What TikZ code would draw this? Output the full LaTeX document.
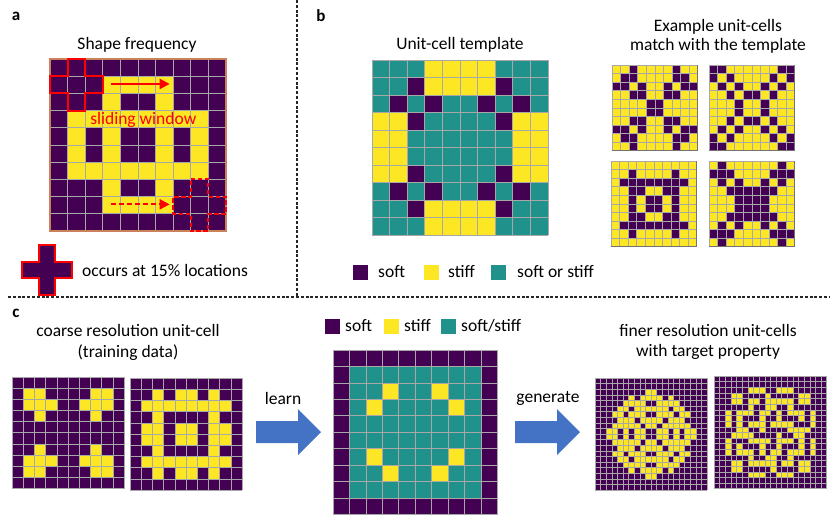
\documentclass[tikz,border=0pt]{standalone}
\usepackage{fontspec}
\setmainfont{Carlito}
\usetikzlibrary{arrows.meta}
\definecolor{colP}{HTML}{440154}
\definecolor{colY}{HTML}{FDE725}
\definecolor{colT}{HTML}{21918C}
\definecolor{gridgray}{HTML}{A8A8A8}
\definecolor{frameorange}{HTML}{C98259}
\definecolor{arrowblue}{HTML}{4472C4}
\tikzset{
  txt/.style={font=\fontsize{17.5}{20}\selectfont, inner sep=0pt},
  panel/.style={font=\fontsize{17}{20}\selectfont\bfseries, inner sep=0pt},
  divider/.style={line width=1.1pt, black!85, dash pattern=on 3pt off 1.8pt},
  gridline/.style={draw=gridgray},
  redline/.style={draw=red, line width=2pt},
  keybox/.style={minimum size=15pt, inner sep=0pt},
}
% cells of a grid, given row by row (P, Y or T)
\newcommand{\cellgrid}[1]{%
  \foreach \row [count=\ry from 0] in {#1} {
    \foreach \v [count=\cx from 0] in \row
      \fill[col\v] (\cx,\ry) rectangle ++(1,1);
  }}
% n x n grid lines
\newcommand{\gridlines}[2]{%
  \foreach \i in {0,...,#1}
    \draw[gridline, line width=#2] (\i,0) -- (\i,#1) (0,\i) -- (#1,\i);}
% yellow cells of the top-left quarter of a 20 x 20 grid
\newcommand{\quartercells}[1]{%
  \foreach \cx/\ry in {#1}
    \fill[colY] (\cx-10,\ry-10) rectangle ++(1,1);}

\begin{document}
\begin{tikzpicture}[x=1pt, y=-1pt]
\useasboundingbox (0,0) rectangle (830,515);

% dividers
\coordinate (divtop) at (297,0);
\coordinate (divmid) at (297,297);
\coordinate (divleft) at (8,297);
\coordinate (divright) at (830,297);
\draw[divider] (divtop) -- (divmid);
\draw[divider] (divleft) -- (divright);

% ---------- a ----------
\node[panel] (labela) at (16,16) {a};
\node[txt] (shapefreq) at (137,45) {Shape frequency};
\begin{scope}[shift={(50,59)}, x=17.6pt, y=-17.2pt]
  \cellgrid{{P,P,P,P,P,P,P,P,P,P},
            {P,P,P,Y,Y,Y,Y,P,P,P},
            {P,P,P,Y,P,P,Y,P,P,P},
            {P,Y,Y,Y,Y,Y,Y,Y,Y,P},
            {P,Y,P,Y,P,P,Y,P,Y,P},
            {P,Y,P,Y,P,P,Y,P,Y,P},
            {P,Y,Y,Y,Y,Y,Y,Y,Y,P},
            {P,P,P,Y,P,P,Y,P,P,P},
            {P,P,P,Y,Y,Y,Y,P,P,P},
            {P,P,P,P,P,P,P,P,P,P}}
  \gridlines{10}{0.8pt}
  \draw[frameorange, line width=1.2pt] (0,0) rectangle (10,10);
  \draw[redline] (1,0) -- (2,0) -- (2,1) -- (3,1) -- (3,2) -- (2,2) -- (2,3)
    -- (1,3) -- (1,2) -- (0,2) -- (0,1) -- (1,1) -- cycle;
  \draw[redline, dash pattern=on 4.5pt off 2.5pt] (8,7) -- (9,7) -- (9,8) -- (10,8)
    -- (10,9) -- (9,9) -- (9,10) -- (8,10) -- (8,9) -- (7,9) -- (7,8) -- (8,8) -- cycle;
  \coordinate (slide1) at (3.45,1.45);
  \coordinate (slide2) at (6.8,1.45);
  \coordinate (slide3) at (3.45,8.45);
  \coordinate (slide4) at (6.8,8.45);
  \draw[redline, -{Triangle[length=10pt,width=10pt]}] (slide1) -- (slide2);
  \draw[redline, dash pattern=on 5pt off 3pt, -{Triangle[length=10pt,width=10pt]}] (slide3) -- (slide4);
  \node[txt, text=red] (sliding) at (5.3,3.55) {sliding window};
\end{scope}
\begin{scope}[shift={(22,245)}, x=16.5pt, y=-16.5pt]
  \filldraw[fill=colP, redline] (1,0) -- (2,0) -- (2,1) -- (3,1) -- (3,2) -- (2,2) -- (2,3)
    -- (1,3) -- (1,2) -- (0,2) -- (0,1) -- (1,1) -- cycle;
\end{scope}
\node[txt, anchor=west] (occurs) at (82,270) {occurs at 15\% locations};

% ---------- b ----------
\node[panel] (labelb) at (321,16) {b};
\node[txt] (template) at (460,45) {Unit-cell template};
\begin{scope}[shift={(372,60)}, x=17.6pt, y=-17.5pt]
  \cellgrid{{T,T,T,Y,Y,Y,Y,T,T,T},
            {T,T,P,Y,Y,Y,Y,P,T,T},
            {T,P,T,P,T,T,P,T,P,T},
            {Y,Y,P,T,T,T,T,P,Y,Y},
            {Y,Y,T,T,T,T,T,T,Y,Y},
            {Y,Y,T,T,T,T,T,T,Y,Y},
            {Y,Y,P,T,T,T,T,P,Y,Y},
            {T,P,T,P,T,T,P,T,P,T},
            {T,T,P,Y,Y,Y,Y,P,T,T},
            {T,T,T,Y,Y,Y,Y,T,T,T}}
  \gridlines{10}{0.8pt}
\end{scope}
\node[keybox, fill=colP] (keysoft) at (360,272.5) {};
\node[txt, anchor=west] (soft) at (378,272) {soft};
\node[keybox, fill=colY] (keystiff) at (431.5,272.5) {};
\node[txt, anchor=west] (stiff) at (448,272) {stiff};
\node[keybox, fill=colT] (keyeither) at (498.5,272.5) {};
\node[txt, anchor=west] (either) at (517,272) {soft or stiff};

\node[txt] (example1) at (718,27) {Example unit-cells};
\node[txt] (example2) at (718,46) {match with the template};
\begin{scope}[shift={(612,65)}, x=8.55pt, y=-8.55pt]
  \cellgrid{{Y,Y,P,Y,Y,Y,Y,P,Y,Y},
            {Y,P,P,Y,Y,Y,Y,P,P,Y},
            {P,P,Y,P,Y,Y,P,Y,P,P},
            {Y,Y,P,P,Y,Y,P,P,Y,Y},
            {Y,Y,Y,Y,P,P,Y,Y,Y,Y},
            {Y,Y,Y,Y,P,P,Y,Y,Y,Y},
            {Y,Y,P,P,Y,Y,P,P,Y,Y},
            {P,P,Y,P,Y,Y,P,Y,P,P},
            {Y,P,P,Y,Y,Y,Y,P,P,Y},
            {Y,Y,P,Y,Y,Y,Y,P,Y,Y}}
  \gridlines{10}{0.5pt}
  \draw[black!55, line width=0.8pt] (10,0) -- (10,10) -- (0,10);
\end{scope}
\begin{scope}[shift={(709,65)}, x=8.55pt, y=-8.55pt]
  \cellgrid{{P,P,Y,Y,Y,Y,Y,Y,P,P},
            {P,Y,P,Y,Y,Y,Y,P,Y,P},
            {Y,P,Y,P,Y,Y,P,Y,P,Y},
            {Y,Y,P,Y,P,P,Y,P,Y,Y},
            {Y,Y,Y,P,Y,Y,P,Y,Y,Y},
            {Y,Y,Y,P,Y,Y,P,Y,Y,Y},
            {Y,Y,P,Y,P,P,Y,P,Y,Y},
            {Y,P,Y,P,Y,Y,P,Y,P,Y},
            {P,Y,P,Y,Y,Y,Y,P,Y,P},
            {P,P,Y,Y,Y,Y,Y,Y,P,P}}
  \gridlines{10}{0.5pt}
  \draw[black!55, line width=0.8pt] (10,0) -- (10,10) -- (0,10);
\end{scope}
\begin{scope}[shift={(611,161)}, x=8.55pt, y=-8.55pt]
  \cellgrid{{Y,Y,Y,Y,Y,Y,Y,Y,Y,Y},
            {Y,Y,P,Y,Y,Y,Y,P,Y,Y},
            {Y,P,P,P,P,P,P,P,P,Y},
            {Y,Y,P,P,Y,Y,P,P,Y,Y},
            {Y,Y,P,Y,P,P,Y,P,Y,Y},
            {Y,Y,P,Y,P,P,Y,P,Y,Y},
            {Y,Y,P,P,Y,Y,P,P,Y,Y},
            {Y,P,P,P,P,P,P,P,P,Y},
            {Y,Y,P,Y,Y,Y,Y,P,Y,Y},
            {Y,Y,Y,Y,Y,Y,Y,Y,Y,Y}}
  \gridlines{10}{0.5pt}
  \draw[black!55, line width=0.8pt] (10,0) -- (10,10) -- (0,10);
\end{scope}
\begin{scope}[shift={(709,161)}, x=8.55pt, y=-8.55pt]
  \cellgrid{{Y,P,Y,Y,Y,Y,Y,Y,P,Y},
            {P,P,P,Y,Y,Y,Y,P,P,P},
            {Y,P,Y,P,Y,Y,P,Y,P,Y},
            {Y,Y,P,P,P,P,P,P,Y,Y},
            {Y,Y,Y,P,P,P,P,Y,Y,Y},
            {Y,Y,Y,P,P,P,P,Y,Y,Y},
            {Y,Y,P,P,P,P,P,P,Y,Y},
            {Y,P,Y,P,Y,Y,P,Y,P,Y},
            {P,P,P,Y,Y,Y,Y,P,P,P},
            {Y,P,Y,Y,Y,Y,Y,Y,P,Y}}
  \gridlines{10}{0.5pt}
  \draw[black!55, line width=0.8pt] (10,0) -- (10,10) -- (0,10);
\end{scope}

% ---------- c ----------
\node[panel] (labelc) at (16,313) {c};
\node[txt] (coarse1) at (128,330) {coarse resolution unit-cell};
\node[txt] (coarse2) at (128,353) {(training data)};
\begin{scope}[shift={(12,377)}, x=11.2pt, y=-11.15pt]
  \cellgrid{{P,P,P,P,P,P,P,P,P,P},
            {P,Y,Y,P,P,P,P,Y,Y,P},
            {P,Y,Y,Y,P,P,Y,Y,Y,P},
            {P,P,Y,P,P,P,P,Y,P,P},
            {P,P,P,P,P,P,P,P,P,P},
            {P,P,P,P,P,P,P,P,P,P},
            {P,P,Y,P,P,P,P,Y,P,P},
            {P,Y,Y,Y,P,P,Y,Y,Y,P},
            {P,Y,Y,P,P,P,P,Y,Y,P},
            {P,P,P,P,P,P,P,P,P,P}}
  \gridlines{10}{0.6pt}
\end{scope}
\begin{scope}[shift={(130,378)}, x=11.2pt, y=-11.2pt]
  \cellgrid{{P,P,P,P,P,P,P,P,P,P},
            {P,P,Y,P,Y,Y,P,Y,P,P},
            {P,Y,Y,Y,Y,Y,Y,Y,Y,P},
            {P,P,Y,P,P,P,P,Y,P,P},
            {P,Y,Y,P,Y,Y,P,Y,Y,P},
            {P,Y,Y,P,Y,Y,P,Y,Y,P},
            {P,P,Y,P,P,P,P,Y,P,P},
            {P,Y,Y,Y,Y,Y,Y,Y,Y,P},
            {P,P,Y,P,Y,Y,P,Y,P,P},
            {P,P,P,P,P,P,P,P,P,P}}
  \gridlines{10}{0.6pt}
\end{scope}

\fill[arrowblue] (256,421) -- (298,421) -- (298,409) -- (321,432) -- (298,455)
  -- (298,443) -- (256,443) -- cycle;
\node[txt] (learn) at (283,398) {learn};

\node[keybox, fill=colP] (ckeysoft) at (332,326) {};
\node[txt, anchor=west] (csoft) at (345,326) {soft};
\node[keybox, fill=colY] (ckeystiff) at (391,326) {};
\node[txt, anchor=west] (cstiff) at (404,326) {stiff};
\node[keybox, fill=colT] (ckeyeither) at (448,326) {};
\node[txt, anchor=west] (ceither) at (461,326) {soft/stiff};
\begin{scope}[shift={(333,350)}, x=16.45pt, y=-16.45pt]
  \cellgrid{{P,P,P,P,P,P,P,P,P,P},
            {P,T,T,T,T,T,T,T,T,P},
            {P,T,T,Y,T,T,Y,T,T,P},
            {P,T,Y,T,T,T,T,Y,T,P},
            {P,T,T,T,T,T,T,T,T,P},
            {P,T,T,T,T,T,T,T,T,P},
            {P,T,Y,T,T,T,T,Y,T,P},
            {P,T,T,Y,T,T,Y,T,T,P},
            {P,T,T,T,T,T,T,T,T,P},
            {P,P,P,P,P,P,P,P,P,P}}
  \gridlines{10}{0.8pt}
\end{scope}

\fill[arrowblue] (515,421) -- (557,421) -- (557,409) -- (580,432) -- (557,455)
  -- (557,443) -- (515,443) -- cycle;
\node[txt] (generate) at (548,398) {generate};

\node[txt] (finer1) at (708,330) {finer resolution unit-cells};
\node[txt] (finer2) at (708,352) {with target property};
\begin{scope}[shift={(595,378)}, x=5.6pt, y=-5.6pt]
  \fill[colP] (0,0) rectangle (20,20);
  \begin{scope}[shift={(10,10)}]
    \foreach \sx/\sy in {1/1,-1/1,1/-1,-1/-1} {
      \begin{scope}[xscale=\sx, yscale=\sy]
        \quartercells{9/2,6/3,8/3,9/3,5/4,6/4,7/4,8/4,4/5,5/5,7/5,8/5,9/5,
          3/6,4/6,6/6,7/6,8/6,4/7,5/7,6/7,8/7,9/7,3/8,4/8,5/8,6/8,7/8,9/8,
          2/9,3/9,5/9,7/9,8/9}
      \end{scope}
    }
  \end{scope}
  \gridlines{20}{0.35pt}
\end{scope}
\begin{scope}[shift={(714,376)}, x=5.63pt, y=-5.63pt]
  \fill[colP] (0,0) rectangle (20,20);
  \begin{scope}[shift={(10,10)}]
    \foreach \ang in {0,90,180,270} {
      \begin{scope}[rotate=\ang]
        \quartercells{6/2,7/2,8/2,3/3,4/3,9/3,3/4,4/4,6/4,7/4,9/4,6/5,9/5,
          2/6,4/6,5/6,6/6,8/6,9/6,2/7,4/7,8/7,2/8,4/8,6/8,7/8,8/8,4/9,5/9,8/9}
      \end{scope}
    }
  \end{scope}
  \gridlines{20}{0.35pt}
\end{scope}
\end{tikzpicture}
\end{document}
